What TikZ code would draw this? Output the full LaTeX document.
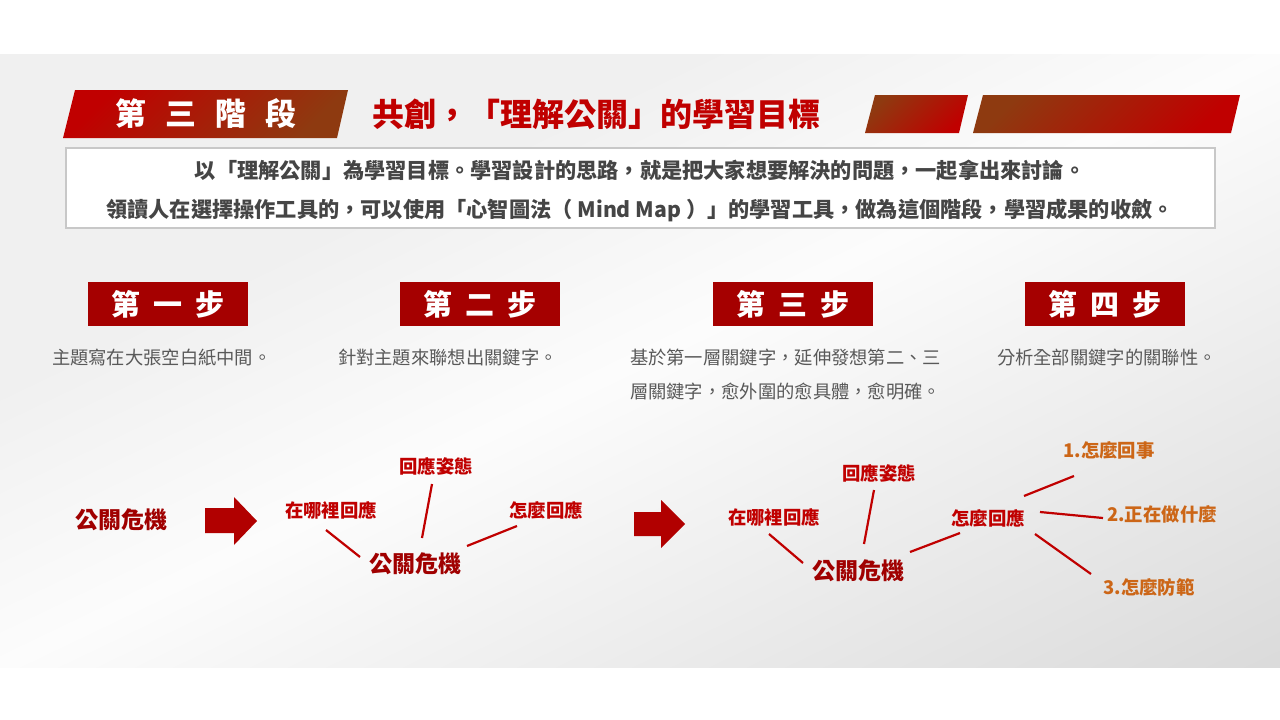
\documentclass[tikz,border=0pt]{standalone}
\usepackage{fontspec}
\setmainfont{Noto Sans CJK TC}[Language=Chinese Traditional]
\usetikzlibrary{calc}
\definecolor{tred}{HTML}{C00000}
\definecolor{dred}{HTML}{A00000}
\definecolor{sred}{HTML}{A50000}
\definecolor{brn}{HTML}{8E3A10}
\definecolor{orng}{HTML}{CC6617}
\definecolor{bgA}{HTML}{F0F0F0}
\definecolor{bgB}{HTML}{DADADA}
\definecolor{bgC}{HTML}{FCFCFC}
\definecolor{txtg}{HTML}{454545}
\definecolor{desc}{HTML}{595959}
\definecolor{bord}{HTML}{C8C8C8}
\pgfdeclarehorizontalshading{bgsh}{1600bp}{color(0bp)=(bgA); color(350bp)=(bgA); color(600bp)=(bgC); color(1160bp)=(bgB); color(1200bp)=(bgB)}
\begin{document}
\begin{tikzpicture}[x=1pt,y=-1pt,
  every node/.style={inner sep=0pt, outer sep=0pt},
  phase/.style={text=white, font=\fontsize{31}{36}\selectfont\bfseries},
  ttl/.style={text=tred, font=\fontsize{32}{38}\selectfont\bfseries},
  boxline/.style={text=txtg, font=\fontsize{21.2}{25}\selectfont\bfseries},
  stepbox/.style={fill=sred, minimum width=160pt, minimum height=44pt, text=white, font=\fontsize{29}{34}\selectfont\bfseries},
  desctext/.style={text=desc, font=\fontsize{18.3}{22}\selectfont, anchor=west},
  lbl/.style={text=tred, font=\fontsize{18.4}{22}\selectfont\bfseries},
  ctr/.style={text=dred, font=\fontsize{23}{27}\selectfont\bfseries},
  olbl/.style={text=orng, font=\fontsize{18.4}{22}\selectfont\bfseries},
  link/.style={draw=tred, line width=2.2pt},
  bigarrow/.style={fill=tred!92!black}
]
\useasboundingbox (0,0) rectangle (1280,720);
\fill[white] (0,0) rectangle (1280,720);
\begin{scope}
  \clip (0,54) rectangle (1280,667);
  \node[rotate=-64.4] (bg) at (640,360.5) {\pgfuseshading{bgsh}};
\end{scope}

% header bars
\shade[top color=tred, bottom color=brn, shading angle=45] (63,138) -- (75,90) -- (348,90) -- (337,138) -- cycle;
\shade[top color=brn, bottom color=tred, shading angle=45] (865,133) -- (875,95) -- (968,95) -- (959,133) -- cycle;
\shade[top color=brn, bottom color=tred, shading angle=45] (973,133) -- (983,95) -- (1240,95) -- (1231,133) -- cycle;
\node[phase] (phase) at (206,114) {第\hspace{0.61em}三\hspace{0.61em}階\hspace{0.61em}段};
\node[ttl, anchor=west] (title) at (372,114) {共創，「理解公關」的學習目標};

% text box
\node[draw=bord, line width=1.5pt, fill=white, minimum width=1149pt, minimum height=80pt] (box) at (640.5,188) {};
\node[boxline] (l1) at (640,170) {以「理解公關」為學習目標。學習設計的思路，就是把大家想要解決的問題，一起拿出來討論。};
\node[boxline] (l2) at (640,210) {領讀人在選擇操作工具的，可以使用「心智圖法（ Mind Map ）」的學習工具，做為這個階段，學習成果的收斂。};

% steps
\node[stepbox] (s1) at (168,304) {第\hspace{0.45em}一\hspace{0.45em}步};
\node[stepbox] (s2) at (480,304) {第\hspace{0.45em}二\hspace{0.45em}步};
\node[stepbox] (s3) at (793,304) {第\hspace{0.45em}三\hspace{0.45em}步};
\node[stepbox] (s4) at (1105,304) {第\hspace{0.45em}四\hspace{0.45em}步};

\node[desctext] (d1) at (52,358) {主題寫在大張空白紙中間。};
\node[desctext] (d2) at (338,358) {針對主題來聯想出關鍵字。};
\node[desctext] (d3a) at (630,358) {基於第一層關鍵字，延伸發想第二、三};
\node[desctext] (d3b) at (630,392) {層關鍵字，愈外圍的愈具體，愈明確。};
\node[desctext] (d4) at (997,358) {分析全部關鍵字的關聯性。};

% map 1
\node[ctr] (c1) at (121,520) {公關危機};
\fill[bigarrow] (205,508) -- (234,508) -- (234,497) -- (257,521) -- (234,545) -- (234,533) -- (205,533) -- cycle;

% map 2
\node[lbl] (w2) at (331,510) {在哪裡回應};
\node[lbl] (p2) at (436,466) {回應姿態};
\node[lbl] (h2) at (546,510) {怎麼回應};
\node[ctr] (c2) at (415,564) {公關危機};
\draw[link] ([shift={(-5,20)}]w2.center) -- ([shift={(-55,-7)}]c2.center);
\draw[link] ([shift={(-4,18)}]p2.center) -- ([shift={(7,-26)}]c2.center);
\draw[link] ([shift={(-29,16)}]h2.center) -- ([shift={(52,-18)}]c2.center);

% arrow 2
\fill[bigarrow] (634,512) -- (661,512) -- (661,500) -- (685,524) -- (661,548) -- (661,536) -- (634,536) -- cycle;

% map 3
\node[lbl] (w3) at (774,517) {在哪裡回應};
\node[lbl] (p3) at (879,473) {回應姿態};
\node[lbl] (h3) at (988,518) {怎麼回應};
\node[ctr] (c3) at (858,571) {公關危機};
\node[olbl] (o1) at (1109,450) {1.怎麼回事};
\node[olbl] (o2) at (1162,514) {2.正在做什麼};
\node[olbl] (o3) at (1149,587) {3.怎麼防範};
\draw[link] ([shift={(-5,17)}]w3.center) -- ([shift={(-55,-8)}]c3.center);
\draw[link] ([shift={(-5,17)}]p3.center) -- ([shift={(6,-27)}]c3.center);
\draw[link] ([shift={(52,-19)}]c3.center) -- ([shift={(-28,15)}]h3.center);
\draw[link] ([shift={(36,-22)}]h3.center) -- ([shift={(-35,26)}]o1.center);
\draw[link] ([shift={(52,-6)}]h3.center) -- ([shift={(-59,4)}]o2.center);
\draw[link] ([shift={(47,16)}]h3.center) -- ([shift={(-58,-13)}]o3.center);
\end{tikzpicture}
\end{document}
